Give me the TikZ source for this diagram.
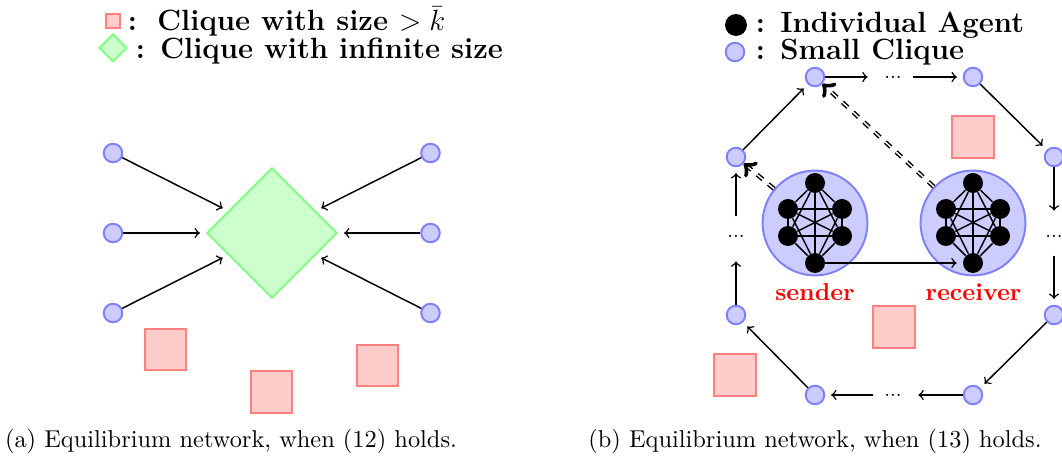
\documentclass[tikz,border=0pt]{standalone}
\usetikzlibrary{shapes.geometric}
\begin{document}
\begin{tikzpicture}[x=0.41pt,y=-0.41pt,
  clique/.style={circle,draw=blue!50,fill=blue!20,thick,minimum size=7.6pt,inner sep=0pt},
  agent/.style={circle,fill=black,minimum size=8.2pt,inner sep=0pt},
  bigclique/.style={circle,draw=blue!50,fill=blue!20,thick,minimum size=43pt,inner sep=0pt},
  bigsq/.style={rectangle,draw=red!50,fill=red!20,thick,minimum size=17pt,inner sep=0pt},
  infdia/.style={diamond,draw=green!50,fill=green!20,thick,minimum size=53.5pt,inner sep=0pt,aspect=1},
  dotsnode/.style={inner sep=0pt,minimum size=15.6pt,font=\footnotesize},
  arr/.style={->,semithick,shorten >=2.4pt},
  kedge/.style={semithick},
  dbl/.style={->,semithick,double,dashed},
  lbl/.style={anchor=base west,inner sep=0pt,font=\large\bfseries},
  role/.style={anchor=base,inner sep=0pt,text=red,font=\bfseries},
  captext/.style={anchor=base,inner sep=0pt},
]
\useasboundingbox (0,0) rectangle (1062,457);

% ---------- (a) legend ----------
\node[bigsq,minimum size=5.6pt] (lsq) at (113,21) {};
\node[infdia,minimum size=11.5pt] (ldia) at (113,48) {};
\node[lbl] (lt1) at (127.3,31) {:\hspace{8.4pt}Clique with size $>\bar{k}$};
\node[lbl] (lt2) at (135.3,59) {:\hspace{6.3pt}Clique with infinite size};

% ---------- (a) graph ----------
\node[infdia] (inf) at (272,233) {};
\node[clique] (al1) at (113,153) {};
\node[clique] (al2) at (113,233) {};
\node[clique] (al3) at (113,313) {};
\node[clique] (ar1) at (430.5,153) {};
\node[clique] (ar2) at (430.5,233) {};
\node[clique] (ar3) at (430.5,313) {};
\foreach \n in {al1,al2,al3,ar1,ar2,ar3} \draw[arr] (\n) -- (inf);
\node[bigsq] (asq1) at (165.5,349.5) {};
\node[bigsq] (asq2) at (271.5,392) {};
\node[bigsq] (asq3) at (377.5,365.5) {};
\node[captext] (capa) at (231,448) {(a) Equilibrium network, when (12) holds.};

% ---------- (b) legend ----------
\node[agent,minimum size=9pt] (lag) at (736,25) {};
\node[clique] (lcl) at (735,52) {};
\node[lbl] (lt3) at (755.3,33) {:\hspace{6.3pt}Individual Agent};
\node[lbl] (lt4) at (755.3,60) {:\hspace{6.3pt}Small Clique};

% ---------- (b) ring ----------
\node[clique] (c1) at (815,77) {};
\node[dotsnode] (d1) at (893,77) {...};
\node[clique] (c2) at (973,77) {};
\node[clique] (c3) at (1054,157) {};
\node[dotsnode] (d2) at (1054,236) {...};
\node[clique] (c4) at (1054,315) {};
\node[clique] (c5) at (973,395) {};
\node[dotsnode] (d3) at (893,395) {...};
\node[clique] (c6) at (815,395) {};
\node[clique] (c7) at (736,315) {};
\node[dotsnode] (d4) at (736,236) {...};
\node[clique] (c8) at (736,157) {};
\draw[arr] (c1) -- (d1);
\draw[arr] (d1) -- (c2);
\draw[arr] (c2) -- (c3);
\draw[arr] (c3) -- (d2);
\draw[arr] (d2) -- (c4);
\draw[arr] (c4) -- (c5);
\draw[arr] (c5) -- (d3);
\draw[arr] (d3) -- (c6);
\draw[arr] (c6) -- (c7);
\draw[arr] (c7) -- (d4);
\draw[arr] (d4) -- (c8);
\draw[arr] (c8) -- (c1);

\node[bigsq] (bsq1) at (973,137) {};
\node[bigsq] (bsq2) at (894,327) {};
\node[bigsq] (bsq3) at (735,375) {};

% ---------- (b) big cliques ----------
\node[bigclique] (sender) at (815,223) {};
\node[bigclique] (receiver) at (973,223) {};
\foreach \p/\cx in {s/815,r/973}{
  \node[agent] (\p1) at (\cx,183) {};
  \node[agent] (\p2) at (\cx-27,209) {};
  \node[agent] (\p3) at (\cx+27,209) {};
  \node[agent] (\p4) at (\cx-27,236) {};
  \node[agent] (\p5) at (\cx+27,236) {};
  \node[agent] (\p6) at (\cx,263) {};
  \foreach \i/\j in {1/2,1/3,1/4,1/5,1/6,2/3,2/4,2/5,2/6,3/4,3/5,3/6,4/5,4/6,5/6}
    \draw[kedge] (\p\i) -- (\p\j);
}
\draw[arr] (s6) -- (r6);
\draw[dbl] (sender) -- (c8);
\draw[dbl] (receiver) -- (c1);
\node[role] (sl) at (815,301) {sender};
\node[role] (rl) at (973.5,301) {receiver};

\node[captext] (capb) at (815,448) {(b) Equilibrium network, when (13) holds.};
\end{tikzpicture}
\end{document}
